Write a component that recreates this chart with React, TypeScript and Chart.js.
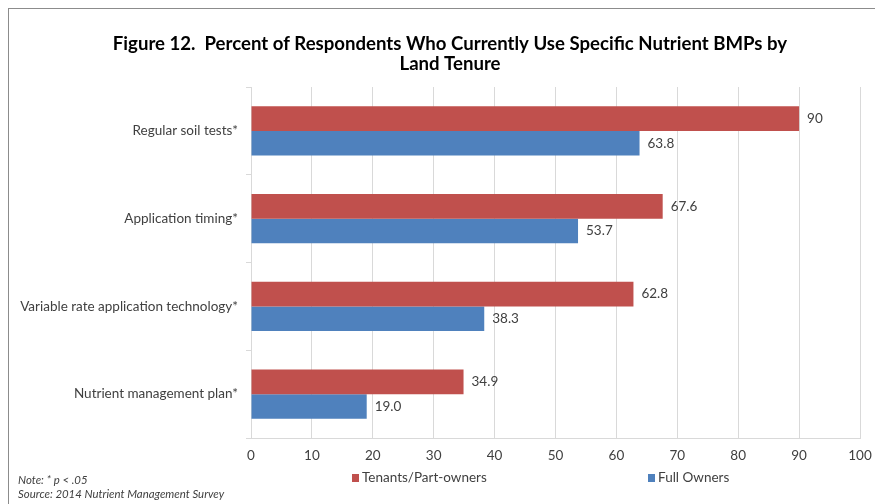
import React, { useEffect, useRef } from "react";
import { Chart, registerables } from "chart.js";

Chart.register(...registerables);

// Survey results: share of respondents using each practice, by land tenure
const titleLines = [
  "Figure 12.  Percent of Respondents Who Currently Use Specific Nutrient BMPs by",
  "Land Tenure",
];
const categories = [
  "Regular soil tests*",
  "Application timing*",
  "Variable rate application technology*",
  "Nutrient management plan*",
];
const seriesNames = ["Tenants/Part-owners", "Full Owners"];
const tenantValues = [90, 67.6, 62.8, 34.9];
const ownerValues = [63.8, 53.7, 38.3, 19.0];
const seriesColors = ["#C0504D", "#4F81BD"];
const xMin = 0;
const xMax = 100;
const xStep = 10;
const noteLines = ["Note: * p < .05", "Source: 2014 Nutrient Management Survey"];

const FONT = "Lato, 'Open Sans', sans-serif";
const TEXT = "#404040";
const GRID = "#D9D9D9";
const LABEL_SIZE = 13.5;

// value label formats: tenants as given, owners always with one decimal
const formatters = [
  (v: number) => String(v),
  (v: number) => v.toFixed(1),
];

const decorPlugin = {
  id: "decor",
  afterDraw(chart: any) {
    const ctx = chart.ctx as CanvasRenderingContext2D;
    const w = chart.width;
    ctx.save();

    // title
    ctx.fillStyle = "#000";
    ctx.font = `bold 18.6px ${FONT}`;
    ctx.textAlign = "center";
    ctx.textBaseline = "middle";
    titleLines.forEach((line, i) => ctx.fillText(line, w / 2, 35 + i * 19.5));

    // value labels at bar ends
    ctx.font = `${LABEL_SIZE}px ${FONT}`;
    ctx.fillStyle = TEXT;
    ctx.textAlign = "left";
    chart.data.datasets.forEach((ds: any, di: number) => {
      const meta = chart.getDatasetMeta(di);
      meta.data.forEach((el: any, i: number) => {
        ctx.fillText(formatters[di](ds.data[i]), el.x + 8, el.y);
      });
    });

    // legend
    const legendX = [343, 639];
    const legendY = 469;
    chart.data.datasets.forEach((ds: any, di: number) => {
      ctx.fillStyle = ds.backgroundColor;
      ctx.fillRect(legendX[di], legendY - 4, 7, 8);
      ctx.fillStyle = TEXT;
      ctx.font = `${LABEL_SIZE}px ${FONT}`;
      ctx.fillText(ds.label, legendX[di] + 10, legendY);
    });

    // footnotes
    ctx.font = `italic 11.4px ${FONT}`;
    ctx.fillStyle = TEXT;
    noteLines.forEach((line, i) => ctx.fillText(line, 9, 471.5 + i * 14));

    ctx.restore();
  },
};

export default function App() {
  const canvasRef = useRef<HTMLCanvasElement | null>(null);

  useEffect(() => {
    if (!canvasRef.current) return;
    const chart = new Chart(canvasRef.current, {
      type: "bar",
      data: {
        labels: categories,
        datasets: [
          {
            label: seriesNames[0],
            data: tenantValues,
            backgroundColor: seriesColors[0],
            categoryPercentage: 0.56,
            barPercentage: 1.0,
          },
          {
            label: seriesNames[1],
            data: ownerValues,
            backgroundColor: seriesColors[1],
            categoryPercentage: 0.56,
            barPercentage: 1.0,
          },
        ],
      },
      options: {
        indexAxis: "y",
        animation: false,
        responsive: false,
        maintainAspectRatio: false,
        layout: { padding: { top: 78, right: 31, bottom: 37, left: 0 } },
        plugins: {
          legend: { display: false },
          title: { display: false },
          tooltip: { enabled: false },
        },
        scales: {
          x: {
            min: xMin,
            max: xMax,
            ticks: {
              stepSize: xStep,
              color: TEXT,
              font: { family: FONT, size: LABEL_SIZE },
              padding: 10,
            },
            grid: { color: GRID, drawTicks: false },
            border: { color: GRID },
            afterFit: (scale: any) => {
              scale.height = 30;
            },
          },
          y: {
            ticks: {
              color: TEXT,
              font: { family: FONT, size: LABEL_SIZE },
              padding: 8,
            },
            grid: { color: GRID, drawOnChartArea: false, tickLength: 5 },
            border: { color: GRID },
            afterFit: (scale: any) => {
              scale.width = 242;
            },
          },
        },
      },
      plugins: [decorPlugin],
    });
    return () => chart.destroy();
  }, []);

  return (
    <div
      style={{
        position: "fixed",
        left: 8,
        top: 8,
        width: 882,
        height: 496,
        borderLeft: "1px solid #8C8C8C",
        borderTop: "1px solid #8C8C8C",
        background: "#fff",
      }}
    >
      <canvas ref={canvasRef} width={882} height={496} style={{ display: "block" }} />
    </div>
  );
}
